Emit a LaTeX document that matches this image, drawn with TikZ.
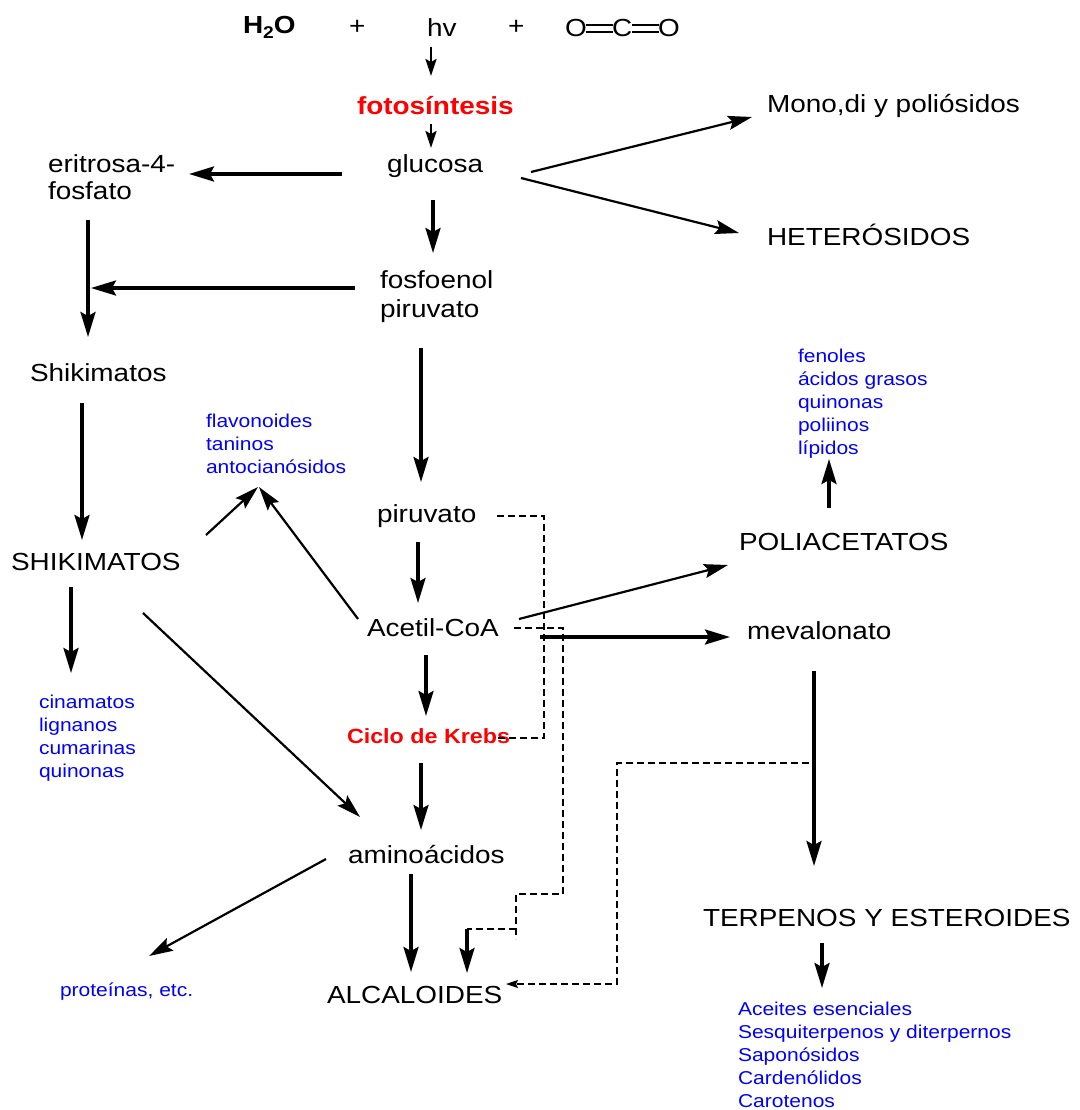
\documentclass[tikz,border=0pt]{standalone}
\usepackage{fontspec}
\setmainfont{Liberation Sans}[FakeStretch=1.13]
\usetikzlibrary{arrows.meta,calc}
\definecolor{myblue}{RGB}{0,0,255}
\definecolor{myred}{RGB}{255,0,0}
\begin{document}
\begin{tikzpicture}[x=1pt,y=-1pt,
 lbl/.style={anchor=base west, inner sep=0pt, outer sep=0pt, font=\fontsize{24.7}{28}\selectfont, align=left},
 lst/.style={anchor=base west, inner sep=0pt, outer sep=0pt, font=\fontsize{18.6}{23}\selectfont, text=myblue, align=left},
 redb/.style={anchor=base west, inner sep=0pt, outer sep=0pt, text=myred, font=\fontsize{24.7}{28}\selectfont\bfseries},
 thk/.style={line width=3.2pt, -{Stealth[length=25pt,width=15pt,inset=4pt]}},
 thn/.style={line width=2.2pt, -{Stealth[length=24pt,width=14pt,inset=4pt]}},
 sml/.style={line width=2.4pt, -{Stealth[length=17pt,width=11pt,inset=3pt]}},
 dsh/.style={line width=1.7pt, dash pattern=on 7pt off 4pt},
 dsharr/.style={dsh, -{Stealth[length=12pt,width=8pt,inset=2pt]}},
 bond/.style={line width=2.2pt},
]
\fill[white] (0,0) rectangle (1079,1110);
\useasboundingbox (0,0) rectangle (1079,1110);

% top equation
\node[lbl, font=\fontsize{24.7}{28}\selectfont\bfseries] (h2o) at (243,34) {H\raisebox{-5pt}{\fontsize{17}{17}\selectfont 2}O};
\node[lbl] (p1) at (349,35) {+};
\node[lbl] (hv) at (427,37) {hv};
\node[lbl] (p2) at (508,35) {+};
\node[lbl] (o1) at (565,37) {O};
\node[lbl] (cc) at (612,37) {C};
\node[lbl] (o2) at (658,37) {O};
\draw[bond] ($(o1.base east)+(-1,-12)$) -- ($(cc.base west)+(1,-12)$);
\draw[bond] ($(o1.base east)+(-1,-5)$) -- ($(cc.base west)+(1,-5)$);
\draw[bond] ($(cc.base east)+(0,-12)$) -- ($(o2.base west)+(1,-12)$);
\draw[bond] ($(cc.base east)+(0,-5)$) -- ($(o2.base west)+(1,-5)$);

% nodes (multi-line nodes are placed at the baseline of their last line)
\node[redb] (fotos) at (357,115) {fotosíntesis};
\node[lbl] (glucosa) at (387,173) {glucosa};
\node[lbl, font=\fontsize{24.7}{26}\selectfont] (eritrosa) at (48,199) {eritrosa-4-\\fosfato};
\node[lbl, font=\fontsize{24.7}{29}\selectfont] (fosfo) at (380,317) {fosfoenol\\piruvato};
\node[lbl] (mono) at (767,113) {Mono,di y poliósidos};
\node[lbl] (hetero) at (767,245) {HETERÓSIDOS};
\node[lbl] (shik) at (30,381) {Shikimatos};
\node[lbl] (SHIK) at (11,570) {SHIKIMATOS};
\node[lst] (flav) at (206,473) {flavonoides\\taninos\\antocianósidos};
\node[lbl] (piru) at (377,522) {piruvato};
\node[lbl] (acetil) at (367,636) {Acetil-CoA};
\node[redb, font=\fontsize{20.6}{24}\selectfont\bfseries] (krebs) at (347,743) {Ciclo de Krebs};
\node[lst] (cinam) at (39,777) {cinamatos\\lignanos\\cumarinas\\quinonas};
\node[lbl] (amino) at (348,863) {aminoácidos};
\node[lbl] (alca) at (327,1003) {ALCALOIDES};
\node[lst] (prot) at (60,996) {proteínas, etc.};
\node[lst] (fenol) at (798,454) {fenoles\\ácidos grasos\\quinonas\\poliinos\\lípidos};
\node[lbl] (poliac) at (739,550) {POLIACETATOS};
\node[lbl] (meval) at (747,639) {mevalonato};
\node[lbl] (terp) at (703,926) {TERPENOS Y ESTEROIDES};
\node[lst] (aceit) at (738,1107) {Aceites esenciales\\Sesquiterpenos y diterpernos\\Saponósidos\\Cardenólidos\\Carotenos};

\coordinate (j1) at (91,288);
\coordinate (d2a) at (516,929);
\coordinate (d2b) at (467,929);
\coordinate (d3) at (809,763);

% connectors
\draw[sml] ($(hv.base west)+(4,10)$) -- ($(fotos.base west)+(74,-39)$);
\draw[sml] ($(fotos.base west)+(74,9)$) -- ($(glucosa.base west)+(44,-25)$);
\draw[thk] ($(glucosa.base west)+(-45,1)$) -- ($(eritrosa.base west)+(141,-25)$);
\draw[thn] ($(glucosa.base west)+(144,-1)$) -- ($(mono.base west)+(-15,4)$);
\draw[thn] ($(glucosa.base west)+(134,5)$) -- ($(hetero.base west)+(-28,-12)$);
\draw[thk] ($(glucosa.base west)+(46,27)$) -- ($(fosfo.base west)+(53,-64)$);
\draw[thk] ($(eritrosa.base west)+(40,21)$) -- ($(shik.base west)+(58,-44)$);
\draw[thk] ($(fosfo.base west)+(-25,-29)$) -- (j1);
\draw[thk] ($(fosfo.base west)+(41,31)$) -- ($(piru.base west)+(44,-40)$);
\draw[thk] ($(shik.base west)+(52,22)$) -- ($(SHIK.base west)+(71,-30)$);
\draw[thn] ($(SHIK.base west)+(195,-35)$) -- ($(flav.base west)+(52,14)$);
\draw[thn] ($(acetil.base west)+(-9,-17)$) -- ($(flav.base west)+(53,14)$);
\draw[thk] ($(SHIK.base west)+(60,17)$) -- ($(cinam.base west)+(32,-104)$);
\draw[thn] ($(SHIK.base west)+(132,43)$) -- ($(amino.base west)+(12,-46)$);
\draw[thk] ($(piru.base west)+(41,20)$) -- ($(acetil.base west)+(51,-33)$);
\draw[thk] ($(acetil.base west)+(59,19)$) -- ($(krebs.base west)+(79,-27)$);
\draw[thk] ($(krebs.base west)+(74,20)$) -- ($(amino.base west)+(73,-33)$);
\draw[thk] ($(amino.base west)+(63,11)$) -- ($(alca.base west)+(84,-31)$);
\draw[thn] ($(amino.base west)+(-22,-4)$) -- ($(prot.base west)+(89,-40)$);
\draw[thn] ($(acetil.base west)+(152,-17)$) -- ($(poliac.base west)+(-11,15)$);
\draw[thk] ($(acetil.base west)+(173,1)$) -- ($(meval.base west)+(-17,-2)$);
\draw[thk] ($(poliac.base west)+(90,-42)$) -- ($(fenol.base west)+(31,5)$);
\draw[thk] ($(meval.base west)+(67,32)$) -- ($(terp.base west)+(111,-60)$);
\draw[thk] ($(terp.base west)+(119,17)$) -- ($(aceit.base west)+(84,-119)$);

% dashed connections
\draw[dsh] ($(piru.base west)+(120,-6)$) -- ++(47,0) -- ++(0,222) -- ($(krebs.base west)+(150,-5)$);
\draw[dsh] ($(acetil.base west)+(147,-8)$) -- ++(49,0) -- ++(0,266) -- ++(-47,0) -- ++(0,45);
\draw[dsh] (d2a) -- (d2b);
\draw[thk] (d2b) -- ($(alca.base west)+(140,-30)$);
\draw[dsharr] (d3) -- (617,763) -- (617,984) -- ($(alca.base west)+(179,-19)$);
\end{tikzpicture}
\end{document}
